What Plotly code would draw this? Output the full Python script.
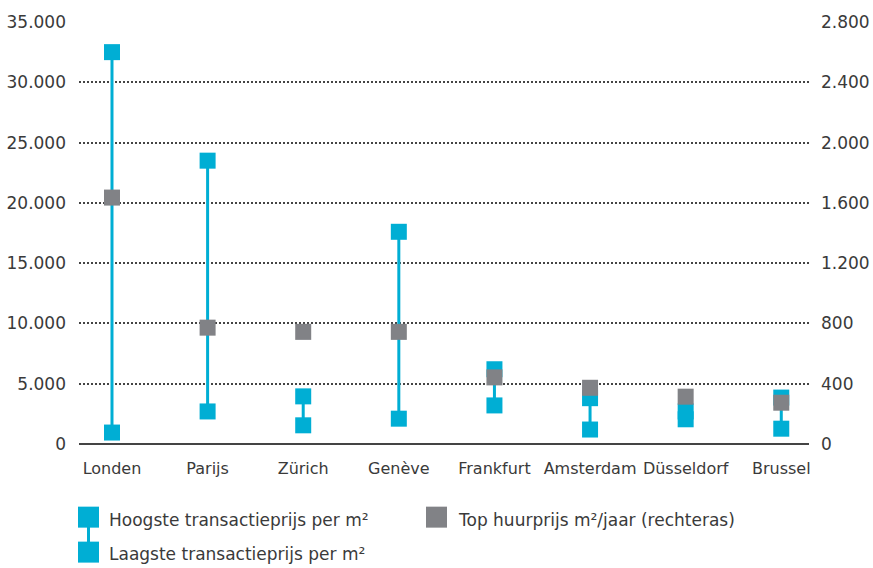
import plotly.graph_objects as go

cities = ["Londen", "Parijs", "Zürich", "Genève", "Frankfurt", "Amsterdam", "Düsseldorf", "Brussel"]
hoogste = [32500, 23500, 3950, 17600, 6200, 3800, 2700, 3850]
laagste = [950, 2700, 1550, 2100, 3200, 1200, 2050, 1270]
huur = [1635, 772, 744, 744, 442, 373, 314, 274]

left_ticks = [0, 5000, 10000, 15000, 20000, 25000, 30000, 35000]
right_ticks = [0, 400, 800, 1200, 1600, 2000, 2400, 2800]

CYAN = "#00AED4"
GREY = "#818286"
TXT = "#3a3a3a"
FONT = "DejaVu Sans"
FS = 17

# plot area in pixels
L, R, T, B = 79, 809, 22, 444.3
W, H = 873, 568

def px(x):
    return (x - L) / (R - L)

def py(y):
    return (B - y) / (B - T)

fig = go.Figure()

# connecting lines
lx, ly = [], []
for c, h, lo in zip(cities, hoogste, laagste):
    lx += [c, c, None]
    ly += [lo, h, None]
fig.add_trace(go.Scatter(x=lx, y=ly, mode="lines", line=dict(color=CYAN, width=3),
                         hoverinfo="skip", showlegend=False))
fig.add_trace(go.Scatter(x=cities, y=hoogste, mode="markers", name="Hoogste transactieprijs per m²",
                         marker=dict(symbol="square", size=16, color=CYAN), showlegend=False))
fig.add_trace(go.Scatter(x=cities, y=laagste, mode="markers", name="Laagste transactieprijs per m²",
                         marker=dict(symbol="square", size=16, color=CYAN), showlegend=False))
fig.add_trace(go.Scatter(x=cities, y=huur, mode="markers", name="Top huurprijs m²/jaar (rechteras)",
                         marker=dict(symbol="square", size=16, color=GREY), yaxis="y2", showlegend=False))

shapes = []
annotations = []
# legend: cyan pair with connector
shapes.append(dict(type="line", xref="paper", yref="paper", x0=px(88.5), x1=px(88.5), y0=py(518), y1=py(552),
                   line=dict(color=CYAN, width=3)))
for (x0, y0) in [(78, 507), (78, 542)]:
    shapes.append(dict(type="rect", xref="paper", yref="paper", x0=px(x0), x1=px(x0 + 21),
                       y0=py(y0), y1=py(y0 + 21), fillcolor=CYAN, line=dict(width=0)))
shapes.append(dict(type="rect", xref="paper", yref="paper", x0=px(426), x1=px(447),
                   y0=py(507), y1=py(528), fillcolor=GREY, line=dict(width=0)))
for text, x, y in [("Hoogste transactieprijs per m²", 107, 520),
                   ("Laagste transactieprijs per m²", 107, 554),
                   ("Top huurprijs m²/jaar (rechteras)", 456, 520)]:
    annotations.append(dict(text=text, xref="paper", yref="paper", x=px(x), y=py(y),
                            xanchor="left", yanchor="middle", showarrow=False,
                            font=dict(family=FONT, size=FS, color=TXT)))

fig.update_layout(
    width=W, height=H,
    margin=dict(l=L, r=W - R, t=T, b=H - B, autoexpand=False),
    paper_bgcolor="white", plot_bgcolor="white",
    separators=",.",
    font=dict(family=FONT, size=FS, color=TXT),
    xaxis=dict(type="category", range=[-0.345, 7.29], showgrid=False, zeroline=False,
               showline=False, ticks="", ticklabelstandoff=13, tickangle=0,
               tickfont=dict(family=FONT, size=16, color=TXT)),
    yaxis=dict(range=[0, 35000], tickvals=left_ticks, tickformat=",d", showgrid=True,
               gridcolor="#444444", griddash="2px,2px", gridwidth=1.5, zeroline=True,
               zerolinecolor="#444444", zerolinewidth=2, showline=False, ticks="",
               ticklabelstandoff=12, tickfont=dict(family=FONT, size=FS, color=TXT)),
    yaxis2=dict(range=[0, 2800], tickvals=right_ticks, tickformat=",d", overlaying="y",
                side="right", showgrid=False, zeroline=False, showline=False, ticks="",
                ticklabelstandoff=11, tickfont=dict(family=FONT, size=FS, color=TXT)),
    shapes=shapes, annotations=annotations, showlegend=False,
)

fig.write_html("out.html", config={"displayModeBar": False},
               post_script="document.body.style.margin='0';")
